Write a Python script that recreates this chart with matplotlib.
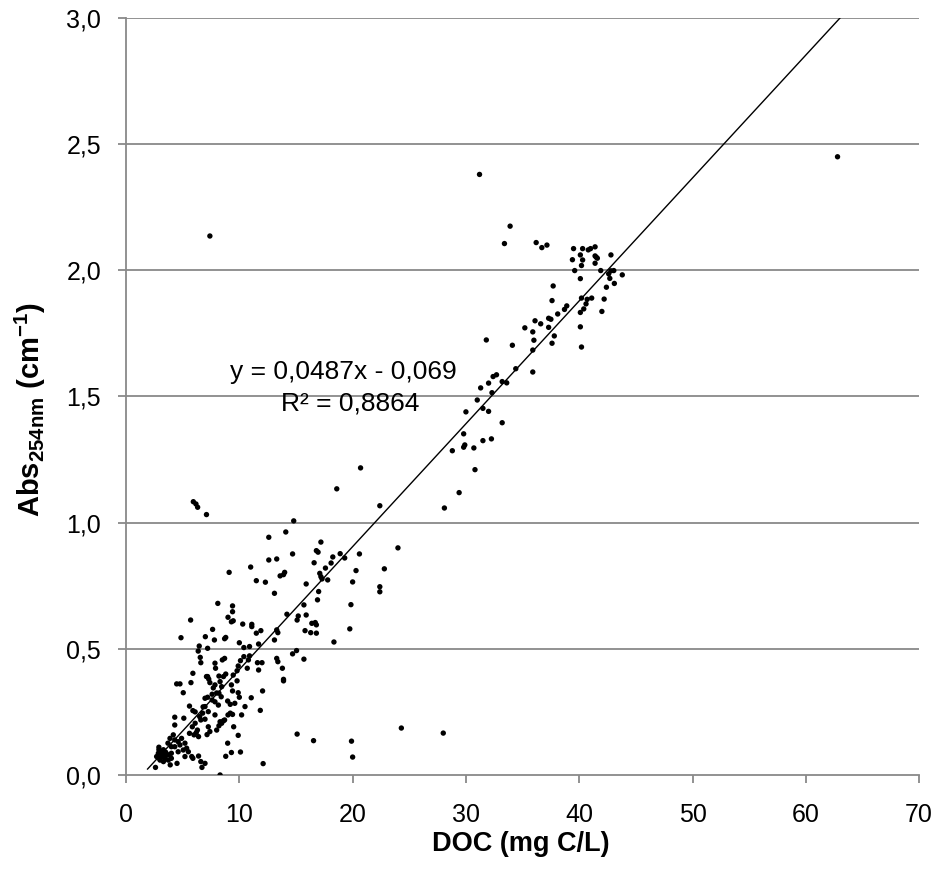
import matplotlib
matplotlib.use("Agg")
import matplotlib.pyplot as plt
import numpy as np

plt.rcParams['font.family'] = ['Liberation Sans', 'DejaVu Sans']
plt.rcParams['mathtext.fontset'] = 'custom'
plt.rcParams['mathtext.rm'] = 'Liberation Sans:bold'
plt.rcParams['mathtext.bf'] = 'Liberation Sans:bold'

# DOC (mg C/L) and Abs254nm (cm-1)
doc_low = [4.47, 4.76, 5.73, 5.05, 7.4, 7.85, 8.3, 8.44, 6.97, 7.2, 7.6, 7.85, 8.2, 8.4, 8.15,
           5.6, 5.9, 6.1, 6.97, 7.26, 6.76, 6.5, 6.6, 6.97, 4.3, 4.3, 7.85, 8.3, 8.44, 8.0, 7.4, 7.26,
           6.1, 6.3, 5.85, 5.6, 6.0, 6.4, 6.2, 4.17, 3.88, 4.3, 4.6, 4.9, 4.76, 5.2, 5.35, 5.05, 5.5,
           5.8, 5.2, 4.6, 4.3, 4.0, 3.7, 2.85, 3.15, 3.44, 3.73, 3.0, 3.3, 4.0, 2.7, 3.6, 4.0, 2.6,
           3.9, 4.5, 5.9, 6.4, 6.6, 6.97, 6.7, 3.1, 3.3, 3.5, 2.9, 3.2, 3.8, 3.4, 2.95, 2.9,
           5.1, 8.2, 8.6, 7.15, 7.1, 7.3, 8.8, 8.0, 7.7, 7.6, 6.8, 8.3]
abs_low = [0.361, 0.361, 0.366, 0.326, 0.366, 0.357, 0.37, 0.35, 0.304, 0.308, 0.297, 0.29, 0.324, 0.31, 0.277,
           0.273, 0.255, 0.25, 0.271, 0.251, 0.245, 0.231, 0.218, 0.221, 0.229, 0.198, 0.238, 0.211, 0.205, 0.178, 0.172, 0.191,
           0.205, 0.178, 0.191, 0.165, 0.159, 0.152, 0.168, 0.159, 0.145, 0.139, 0.132, 0.145, 0.119, 0.126, 0.106, 0.099, 0.092,
           0.073, 0.073, 0.092, 0.112, 0.112, 0.126, 0.086, 0.073, 0.066, 0.059, 0.059, 0.053, 0.066, 0.073, 0.079, 0.086, 0.03,
           0.04, 0.046, 0.066, 0.075, 0.053, 0.046, 0.03, 0.09, 0.1, 0.09, 0.1, 0.08, 0.08, 0.075, 0.065, 0.11,
           0.225, 0.195, 0.215, 0.16, 0.39, 0.38, 0.40, 0.325, 0.345, 0.32, 0.27, 0.0]

doc_mid = [8.1, 5.7, 4.85, 7.0, 7.64, 7.8, 8.7, 6.46, 6.37, 7.2, 6.55, 6.6, 7.85, 7.9, 8.5, 5.9, 7.2, 8.2, 8.6,
           13.9, 12.05, 11.85, 11.05, 10.5, 10.2, 9.5, 9.9, 15.1, 16.55, 10.1, 9.3, 8.97, 8.8, 12.1, 9.3, 9.8,
           9.4, 9.9, 10.0, 8.97, 9.2, 9.6, 9.2, 9.4, 9.0, 8.7,
           11.5, 12.3, 13.1, 15.9, 17.0, 16.9, 15.7, 14.2, 15.2, 15.1, 15.9, 16.4, 16.7, 16.8, 15.8, 16.3, 16.8,
           13.3, 13.4, 13.1, 11.9, 11.5, 11.1, 11.1, 10.3, 9.46, 9.3, 9.0, 9.4, 9.4, 10.0, 10.4, 10.9, 11.7, 8.8,
           15.05, 14.7, 15.7, 13.3, 13.4, 13.8, 10.9, 10.8, 10.4, 10.1, 9.9, 9.8, 10.7, 11.6, 12.0, 11.7, 13.9,
           8.7, 9.46, 5.94, 6.17, 6.32, 7.1]
abs_mid = [0.68, 0.614, 0.544, 0.548, 0.577, 0.535, 0.54, 0.511, 0.491, 0.502, 0.466, 0.445, 0.443, 0.423, 0.456, 0.403, 0.39, 0.392, 0.39,
           0.373, 0.333, 0.256, 0.306, 0.271, 0.238, 0.191, 0.157, 0.162, 0.136, 0.091, 0.089, 0.126, 0.074, 0.045, 0.357, 0.373,
           0.333, 0.326, 0.308, 0.293, 0.28, 0.284, 0.245, 0.24, 0.238, 0.218,
           0.77, 0.764, 0.72, 0.757, 0.727, 0.694, 0.674, 0.637, 0.63, 0.614, 0.634, 0.601, 0.604, 0.595, 0.572, 0.564, 0.562,
           0.575, 0.564, 0.535, 0.572, 0.562, 0.597, 0.588, 0.598, 0.611, 0.607, 0.625, 0.67, 0.647, 0.524, 0.505, 0.509, 0.519, 0.545,
           0.493, 0.48, 0.459, 0.462, 0.449, 0.423, 0.472, 0.456, 0.469, 0.453, 0.432, 0.413, 0.423, 0.445, 0.445, 0.416, 0.379,
           0.462, 0.396, 1.083, 1.074, 1.061, 1.032]

doc_upper = [14.8, 14.1, 12.6, 17.2, 16.8, 16.95, 14.7, 16.6, 12.6, 13.3, 9.1, 11.0, 14.0, 13.9, 13.6, 17.1, 17.2, 17.3,
             20.7, 18.6, 22.4, 24.0, 18.25, 18.9, 19.3, 20.6, 18.1, 17.6, 17.8, 20.3, 22.8, 20.0, 22.4, 22.4, 19.85,
             19.75, 18.35, 24.3, 19.9, 20.0, 28.0]
abs_upper = [1.007, 0.963, 0.942, 0.923, 0.889, 0.883, 0.876, 0.841, 0.852, 0.856, 0.803, 0.824, 0.803, 0.794, 0.789, 0.799, 0.786, 0.777,
             1.217, 1.134, 1.067, 0.90, 0.864, 0.877, 0.86, 0.876, 0.84, 0.82, 0.773, 0.81, 0.817, 0.765, 0.746, 0.726, 0.675,
             0.579, 0.527, 0.186, 0.134, 0.071, 0.166]

doc_high = [33.9, 33.4, 31.8, 34.1, 34.4, 31.3, 32.0, 32.4, 32.7, 33.2, 33.6, 32.3, 31.0, 31.5, 32.0, 30.0, 33.2,
            29.8, 29.9, 29.8, 30.7, 28.8, 31.5, 32.25, 30.8, 29.4, 28.1,
            39.5, 40.3, 40.8, 41.0, 41.4, 40.1, 40.3, 39.4, 41.4, 41.5, 41.6, 41.4, 42.8, 40.2, 39.6, 41.9, 42.8,
            43.05, 42.6, 42.7, 43.8, 40.1, 43.1, 42.4, 37.7, 37.6, 40.2, 40.7, 41.1, 42.2, 40.6, 40.4, 40.1, 42.0,
            40.1, 40.2, 38.9, 38.7, 38.1, 37.3, 37.5, 37.3, 36.1, 36.6, 35.2, 35.9, 36.0, 37.8, 37.6, 35.9, 35.9,
            36.2, 36.7, 37.15, 7.4, 31.2, 62.8]
abs_high = [2.175, 2.106, 1.724, 1.703, 1.61, 1.534, 1.553, 1.579, 1.586, 1.559, 1.554, 1.515, 1.486, 1.453, 1.441, 1.439, 1.396,
            1.352, 1.308, 1.299, 1.296, 1.285, 1.325, 1.332, 1.21, 1.119, 1.058,
            2.086, 2.086, 2.081, 2.086, 2.093, 2.061, 2.041, 2.042, 2.057, 2.052, 2.048, 2.028, 2.061, 2.019, 1.999, 1.999, 1.998,
            1.999, 1.986, 1.968, 1.982, 1.967, 1.948, 1.933, 1.938, 1.88, 1.89, 1.885, 1.89, 1.886, 1.867, 1.847, 1.833, 1.837,
            1.776, 1.696, 1.859, 1.845, 1.827, 1.81, 1.806, 1.774, 1.80, 1.788, 1.772, 1.756, 1.723, 1.74, 1.711, 1.684, 1.597,
            2.11, 2.09, 2.10, 2.136, 2.38, 2.45]

slope = 0.0487
intercept = -0.069
trend_x = [1.9, 63.2]
eq_line1 = "y = 0,0487x - 0,069"
eq_line2 = "R² = 0,8864"
x_ticks = [0, 10, 20, 30, 40, 50, 60, 70]
y_ticks = [0.0, 0.5, 1.0, 1.5, 2.0, 2.5, 3.0]

doc = doc_low + doc_mid + doc_upper + doc_high
absv = abs_low + abs_mid + abs_upper + abs_high

fig = plt.figure(figsize=(9.35, 8.69), dpi=100)
ax = fig.add_axes([0.1348, 0.1082, 0.983 - 0.1348, 0.9793 - 0.1082])

grid_c = '#898989'
for yv in y_ticks[1:]:
    ax.axhline(yv, color=grid_c, lw=1.3, zorder=1)

ax.scatter(doc, absv, s=15, color='black', edgecolors='none', zorder=3)
tx = np.array(trend_x)
ax.plot(tx, slope * tx + intercept, color='black', lw=1.0, zorder=4)

ax.set_xlim(0, 70)
ax.set_ylim(0, 3.0)
ax.set_xticks(x_ticks)
ax.set_yticks(y_ticks)
ax.set_xticklabels([str(v) for v in x_ticks])
ax.set_yticklabels([f"{v:.1f}".replace('.', ',') for v in y_ticks])

for s in ['top', 'right']:
    ax.spines[s].set_visible(False)
for s in ['left', 'bottom']:
    ax.spines[s].set_color(grid_c)
    ax.spines[s].set_linewidth(1.3)
ax.tick_params(axis='both', colors=grid_c, labelcolor='black', labelsize=18, width=1.3)
ax.tick_params(axis='x', length=6, direction='out', pad=14)
ax.tick_params(axis='y', length=6, direction='out', pad=12)

ax.set_xlabel("DOC (mg C/L)", fontsize=19.5, fontweight='bold')
ax.xaxis.set_label_coords(0.498, -0.0745)
ax.set_ylabel(r"Abs$_{\mathrm{254nm}}$ (cm$^{\mathrm{-1}}$)", fontsize=21, fontweight='bold')
ax.yaxis.set_label_coords(-0.0985, 0.4835)

ax.text(19.22, 1.597, eq_line1, fontsize=19, ha='center', va='center', zorder=5)
ax.text(19.75, 1.474, eq_line2, fontsize=19, ha='center', va='center', zorder=5)

fig.savefig("out.png", dpi=100)
